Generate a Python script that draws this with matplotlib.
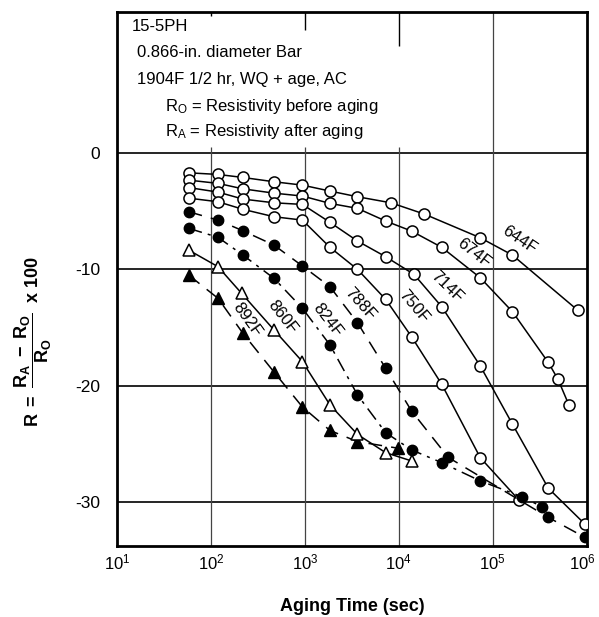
import numpy as np
import matplotlib
matplotlib.use("Agg")
import matplotlib.pyplot as plt
from matplotlib.transforms import ScaledTranslation

plt.rcParams['font.family'] = ['Liberation Sans', 'DejaVu Sans']
plt.rcParams['mathtext.fontset'] = 'custom'
plt.rcParams['mathtext.rm'] = 'Liberation Sans'
plt.rcParams['mathtext.it'] = 'Liberation Sans'
plt.rcParams['mathtext.bf'] = 'Liberation Sans:bold'

# aging times (sec) and resistivity change R (%)
t_644 = [58, 119, 219, 469, 942, 1849, 3630, 8245, 18670, 73600, 162000, 798000]
r_644 = [-1.69, -1.83, -2.09, -2.46, -2.75, -3.26, -3.75, -4.27, -5.24, -7.28, -8.77, -13.5]

t_674 = [58, 119, 219, 469, 942, 1849, 3630, 7244, 13650, 28600, 73600, 162000, 390000, 494000, 648000]
r_674 = [-2.32, -2.60, -3.07, -3.44, -3.69, -4.32, -4.75, -5.84, -6.70, -8.10, -10.72, -13.64, -18.01, -19.45, -21.69]

t_714 = [58, 119, 219, 469, 942, 1849, 3630, 7244, 14500, 28600, 73600, 162000, 390000, 957000]
r_714 = [-2.96, -3.35, -3.95, -4.27, -4.41, -5.95, -7.56, -8.91, -10.43, -13.21, -18.31, -23.32, -28.83, -31.92]

t_750 = [58, 119, 219, 469, 942, 1849, 3630, 7244, 13650, 28600, 73600, 189000]
r_750 = [-3.87, -4.18, -4.83, -5.47, -5.76, -8.10, -10.0, -12.58, -15.79, -19.88, -26.20, -29.83]

t_788 = [58, 119, 219, 469, 942, 1849, 3630, 7244, 13650, 33600, 390000, 957000]
r_788 = [-5.04, -5.76, -6.68, -7.91, -9.71, -11.49, -14.59, -18.51, -22.18, -26.18, -31.34, -33.06]

t_824 = [58, 119, 219, 469, 942, 1849, 3630, 7244, 13650, 28600, 73600, 203000, 331000]
r_824 = [-6.47, -7.24, -8.77, -10.77, -13.35, -16.50, -20.80, -24.05, -25.53, -26.63, -28.20, -29.55, -30.41]

t_860 = [58, 119, 212, 469, 942, 1849, 3630, 7244, 13650]
r_860 = [-8.34, -9.77, -12.06, -15.21, -17.94, -21.66, -24.20, -25.77, -26.48]

t_892 = [58, 119, 219, 469, 942, 1849, 3630, 9860]
r_892 = [-10.49, -12.49, -15.50, -18.83, -21.84, -23.86, -24.82, -25.39]

x_ticks = [1e1, 1e2, 1e3, 1e4, 1e5, 1e6]
x_labels = [r'$\mathregular{10^{1}}$', r'$\mathregular{10^{2}}$', r'$\mathregular{10^{3}}$',
            r'$\mathregular{10^{4}}$', r'$\mathregular{10^{5}}$', r'$\mathregular{10^{6}}$']
y_ticks = [0, -10, -20, -30]
y_labels = ['0', '-10', '-20', '-30']

fig = plt.figure(figsize=(5.99, 6.17), dpi=100)
ax = fig.add_axes([0.1953, 0.1151, 0.7842, 0.8655])
ax.set_xscale('log')
ax.set_xlim(1e1, 1e6)
ax.set_ylim(-33.8, 12.15)

# grid
for yv in y_ticks:
    ax.axhline(yv, color='black', lw=1.2, zorder=1)
ax.vlines([1e2, 1e3, 1e4], -33.8, 0.5, color='#444444', lw=0.9, zorder=1)
ax.axvline(1e5, color='#444444', lw=0.9, zorder=1)
# short ticks hanging from top
ax.vlines([1e2], 11.8, 12.15, color='black', lw=1.0)
ax.vlines([1e3], 10.6, 12.15, color='black', lw=1.0)
ax.vlines([1e4], 9.2, 12.15, color='black', lw=1.0)

lw = 1.1
ms = 8
open_c = dict(marker='o', mfc='white', mec='black', mew=1.1, ms=ms, color='black', lw=lw)
ax.plot(t_644, r_644, **open_c, zorder=3)
ax.plot(t_674, r_674, **open_c, zorder=3)
ax.plot(t_714, r_714, **open_c, zorder=3)
ax.plot(t_750, r_750, **open_c, zorder=3)
ax.plot(t_788, r_788, marker='o', color='black', ms=7.5, lw=lw, dashes=(9, 6), zorder=3)
ax.plot(t_824, r_824, marker='o', color='black', ms=7.5, lw=lw, dashes=(9, 4, 2, 4), zorder=3)
ax.plot(t_860, r_860, marker='^', mfc='white', mec='black', mew=1.1, ms=8.5, color='black', lw=lw, zorder=4)
ax.plot(t_892, r_892, marker='^', color='black', ms=8, lw=lw, dashes=(9, 6), zorder=3)

# curve labels
lab_kw = dict(fontsize=12, ha='center', va='center', zorder=5)
ax.text(10**5.28, -7.5, '644F', rotation=-34, **lab_kw)
ax.text(10**4.80, -8.6, '674F', rotation=-38, **lab_kw)
ax.text(10**4.51, -11.5, '714F', rotation=-44, **lab_kw)
ax.text(10**4.16, -13.2, '750F', rotation=-50, **lab_kw)
ax.text(10**3.59, -13.0, '788F', rotation=-48, **lab_kw)
ax.text(10**3.24, -14.4, '824F', rotation=-52, **lab_kw)
ax.text(10**2.76, -14.1, '860F', rotation=-52, **lab_kw)
ax.text(10**2.39, -14.3, '892F', rotation=-54, **lab_kw)

# header notes
hd = dict(transform=ax.transAxes, fontsize=12, va='baseline', ha='left')
ax.text(0.032, 0.9644, '15-5PH', **hd)
ax.text(0.043, 0.9157, '0.866-in. diameter Bar', **hd)
ax.text(0.043, 0.8652, '1904F 1/2 hr, WQ + age, AC', **hd)
ax.text(0.102, 0.8146, r'R$_\mathregular{O}$ = Resistivity before aging', **hd)
ax.text(0.102, 0.7678, r'R$_\mathregular{A}$ = Resistivity after aging', **hd)

ax.set_xticks(x_ticks)
ax.set_xticklabels(x_labels, fontsize=12)
ax.xaxis.set_minor_locator(matplotlib.ticker.NullLocator())
ax.set_yticks(y_ticks)
ax.set_yticklabels(y_labels, fontsize=12.5)
ax.tick_params(axis='both', length=0, pad=12)
ax.tick_params(axis='x', pad=5)
last = ax.get_xticklabels()[-1]
last.set_transform(last.get_transform() + ScaledTranslation(-3 / 72, 0, fig.dpi_scale_trans))

for s in ax.spines.values():
    s.set_linewidth(2.0)

ax.set_xlabel('Aging Time (sec)', fontsize=13, fontweight='bold', labelpad=18)
fig.text(0.055, 0.4457, r'$\mathbf{R\ =\ \dfrac{R_A\ -\ R_O}{R_O}\ \ x\ 100}$', rotation=90,
         fontsize=13, ha='center', va='center')

fig.savefig('out.png', dpi=100)
